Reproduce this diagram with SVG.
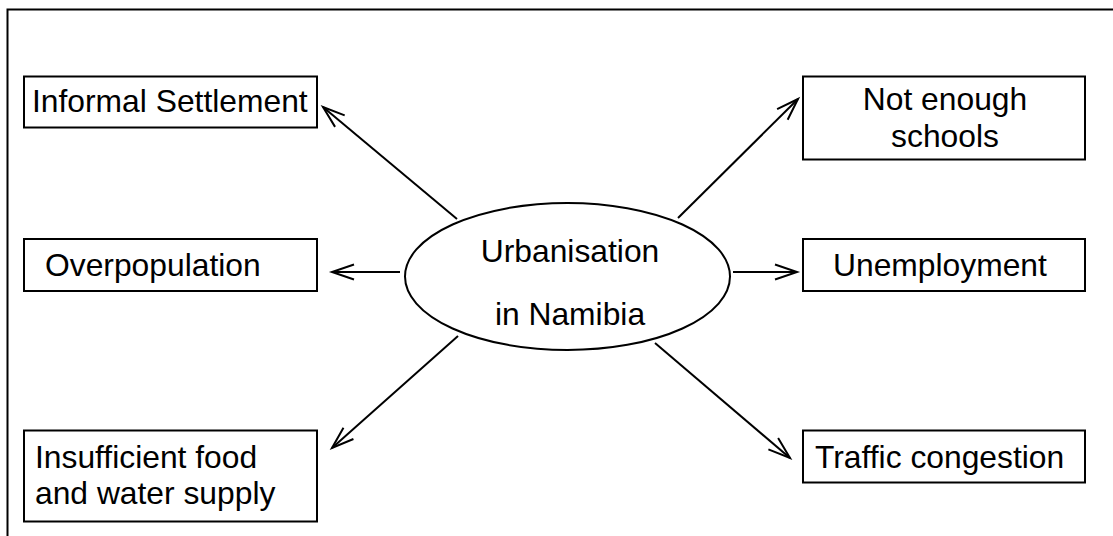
<svg xmlns="http://www.w3.org/2000/svg" width="1113" height="536" viewBox="0 0 1113 536">
<style>
.box{fill:#fff;stroke:#000;stroke-width:2}
.t{font-family:"Liberation Sans",Arial,sans-serif;font-size:31.8px;fill:#000}
.c{stroke:#000;stroke-width:2;fill:none}
</style>
<defs>
<marker id="ah" markerUnits="userSpaceOnUse" markerWidth="30" markerHeight="30" refX="23" refY="10" orient="auto" viewBox="0 0 30 20">
<path d="M1,2.5 L23,10 L1,17.5" fill="none" stroke="#000" stroke-width="2"/>
</marker>
</defs>
<rect x="0" y="0" width="1113" height="536" fill="#fff"/>
<rect x="7.5" y="9.5" width="1115" height="540" fill="none" stroke="#000" stroke-width="2"/>
<g id="connectors">
<line class="c" x1="457" y1="219" x2="323" y2="107" marker-end="url(#ah)"/>
<line class="c" x1="678" y1="218" x2="798" y2="99" marker-end="url(#ah)"/>
<line class="c" x1="400" y1="272" x2="332" y2="272" marker-end="url(#ah)"/>
<line class="c" x1="733" y1="272" x2="797" y2="272" marker-end="url(#ah)"/>
<line class="c" x1="458" y1="336" x2="332" y2="448" marker-end="url(#ah)"/>
<line class="c" x1="655" y1="343" x2="790" y2="458" marker-end="url(#ah)"/>
</g>
<g id="center">
<ellipse cx="567.5" cy="276.5" rx="162.5" ry="73.5" fill="#fff" stroke="#000" stroke-width="2"/>
<text class="t" x="570" y="262" text-anchor="middle">Urbanisation</text>
<text class="t" x="570" y="325" text-anchor="middle">in Namibia</text>
</g>
<g id="informal">
<rect class="box" x="24" y="76.5" width="293" height="51"/>
<text class="t" x="32" y="112">Informal Settlement</text>
</g>
<g id="schools">
<rect class="box" x="803" y="76.5" width="282" height="83"/>
<text class="t" x="945" y="110" text-anchor="middle">Not enough</text>
<text class="t" x="945" y="147" text-anchor="middle">schools</text>
</g>
<g id="overpopulation">
<rect class="box" x="24" y="239" width="293" height="52"/>
<text class="t" x="45" y="276">Overpopulation</text>
</g>
<g id="unemployment">
<rect class="box" x="803" y="239" width="282" height="52"/>
<text class="t" x="833" y="276">Unemployment</text>
</g>
<g id="food">
<rect class="box" x="24" y="430.5" width="293" height="91"/>
<text class="t" x="35" y="468">Insufficient food</text>
<text class="t" x="35" y="504">and water supply</text>
</g>
<g id="traffic">
<rect class="box" x="803" y="430.5" width="282" height="52"/>
<text class="t" x="815" y="468">Traffic congestion</text>
</g>
</svg>
